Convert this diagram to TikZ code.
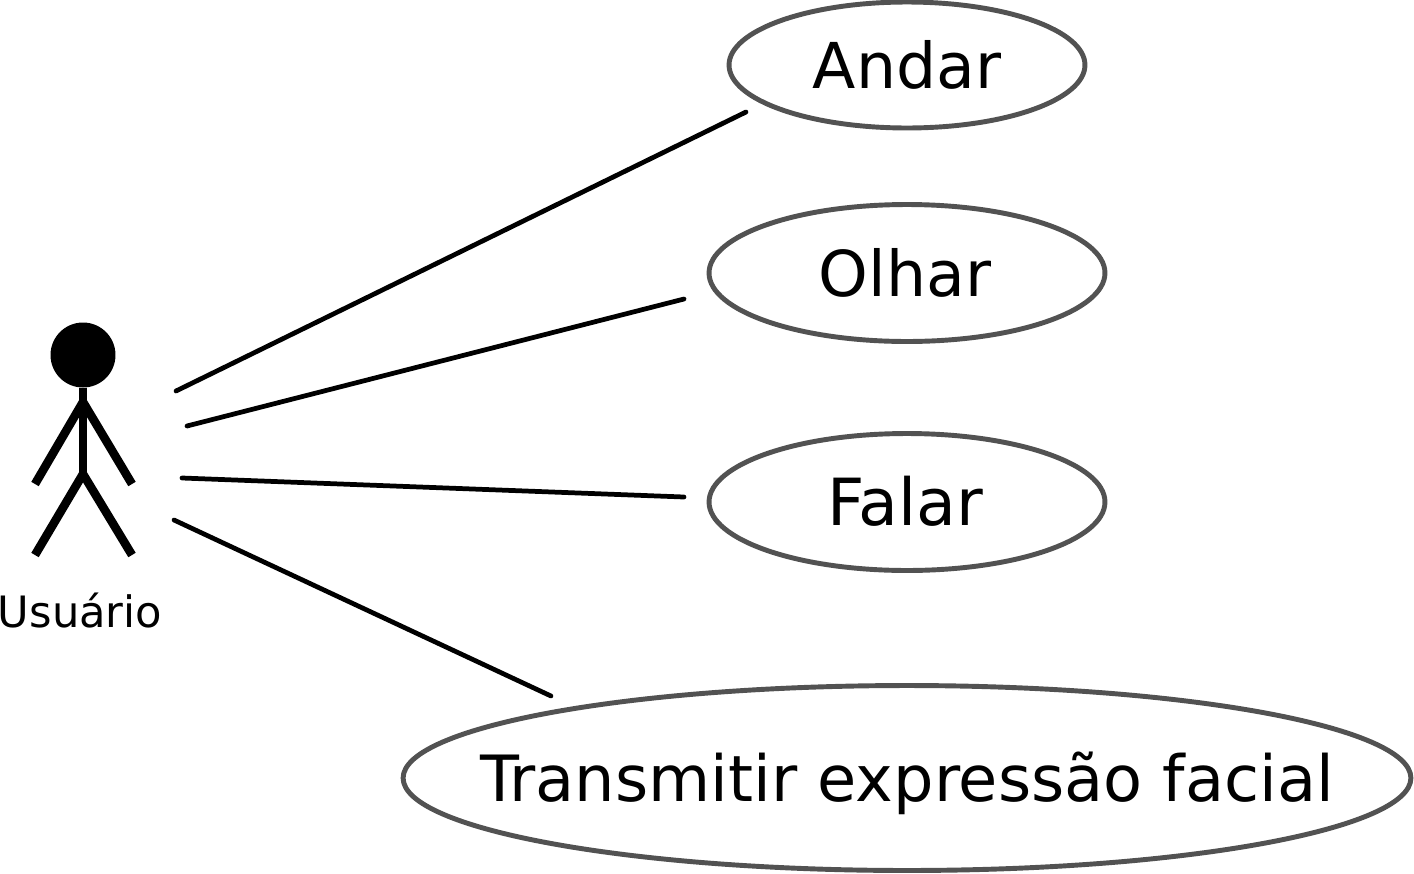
\documentclass[tikz,border=0pt]{standalone}
\usepackage{fontspec}
\setmainfont{DejaVu Sans}
\usetikzlibrary{shapes.geometric}
\tikzset{
	usecase/.style={ellipse, draw=black!68, line width=2.8pt, inner xsep=-2.5cm, inner ysep=0pt, text height=0.94cm, text depth=0pt, font=\fontsize{36}{36}\selectfont},
	link/.style={line width=2.7pt, color=black, line cap=round},
	limb/.style={line width=4.9pt, color=black},
}
\begin{document}
\begin{tikzpicture}[x=0.02cm, y=-0.02cm]
	\useasboundingbox (0,0) rectangle (1414,873);
	% casos de uso
	\node[usecase, minimum width=7.12cm, minimum height=2.52cm] (andar) at (907,65) {Andar};
	\node[usecase, minimum width=7.92cm, minimum height=2.74cm] (olhar) at (907,273) {Olhar\kern2.2pt};
	\node[usecase, minimum width=7.92cm, minimum height=2.74cm, font=\fontsize{37}{37}\selectfont] (falar) at (907,502) {Falar\kern2.2pt};
	\node[usecase, minimum width=20.16cm, minimum height=3.70cm, font=\fontsize{36.3}{36.3}\selectfont] (transmitir) at (907,778) {Transmitir expressão facial};
	% ator
	\node[circle, fill=black, minimum size=1.3cm, inner sep=0pt] (head) at (83,355) {};
	\coordinate (hip) at (83,474);
	\coordinate (shoulder) at (83,402);
	\coordinate (handl) at (35,484);
	\coordinate (handr) at (132,484);
	\coordinate (footl) at (35,555);
	\coordinate (footr) at (132,555);
	\draw[limb] (head) -- (hip);
	\draw[limb] (handl) -- (shoulder) -- (handr);
	\draw[limb] (footl) -- (hip) -- (footr);
	\node[font=\fontsize{24.6}{24.6}\selectfont] (usuario) at (80,611) {Usuário};
	% ligacoes
	\coordinate (a1) at (176,391);
	\coordinate (a2) at (746,112);
	\coordinate (o1) at (187,426);
	\coordinate (o2) at (684,299);
	\coordinate (f1) at (182,478);
	\coordinate (f2) at (684,497);
	\coordinate (t1) at (174,520);
	\coordinate (t2) at (551,696);
	\draw[link] (a1) -- (a2);
	\draw[link] (o1) -- (o2);
	\draw[link] (f1) -- (f2);
	\draw[link] (t1) -- (t2);
\end{tikzpicture}
\end{document}
